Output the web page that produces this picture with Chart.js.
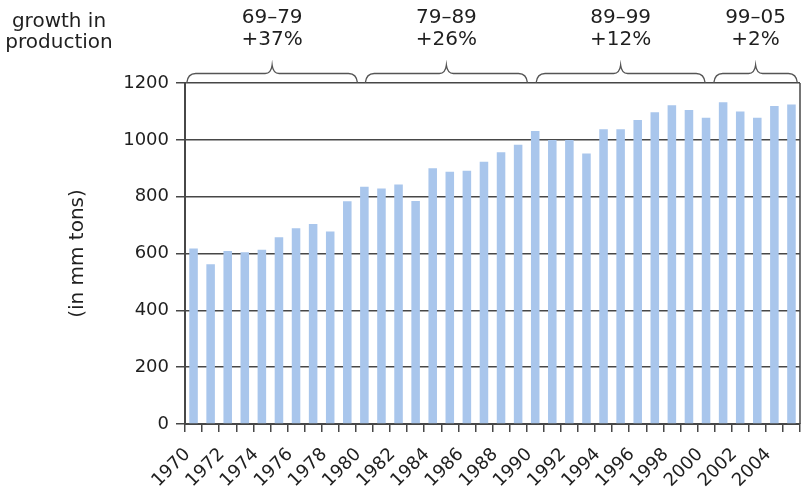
<!DOCTYPE html>
<html><head><meta charset="utf-8">
<script src="https://cdn.jsdelivr.net/npm/chart.js@4/dist/chart.umd.min.js"></script>
<style>html,body{margin:0;padding:0;background:#fff}#wrap{width:803px;height:489px;position:relative}</style>
</head><body><div id="wrap"><canvas id="c" width="803" height="489"></canvas></div>
<script>
const years = ['1970','1971','1972','1973','1974','1975','1976','1977','1978','1979',
  '1980','1981','1982','1983','1984','1985','1986','1987','1988','1989',
  '1990','1991','1992','1993','1994','1995','1996','1997','1998','1999',
  '2000','2001','2002','2003','2004','2005'];
const production = [618,562,609,604,613,657,689,704,677,784,
  835,829,843,785,900,888,891,923,956,983,
  1031,999,999,952,1037,1037,1070,1097,1122,1105,
  1078,1132,1100,1078,1119,1124];
const xTickLabels = ['1970','','1972','','1974','','1976','','1978','',
  '1980','','1982','','1984','','1986','','1988','',
  '1990','','1992','','1994','','1996','','1998','',
  '2000','','2002','','2004',''];
const yTicks = [0,200,400,600,800,1000,1200];
const braceFrom = [-0.4, 10.05, 20.05, 30.45];
const braceTo   = [9.6, 19.55, 29.95, 35.35];
const braceLine1 = ['69\u201379','79\u201389','89\u201399','99\u201305'];
const braceLine2 = ['+37%','+26%','+12%','+2%'];
const cornerText = ['growth in','production'];
const yTitle = '(in mm tons)';

const FONT = 'DejaVu Sans';
const TEXT = '#1f1f1f';
const LINE = '#474747';

const overlay = {
  id: 'overlay',
  afterDraw(chart) {
    const ctx = chart.ctx, xs = chart.scales.x, ca = chart.chartArea;
    const step = xs.getPixelForValue(1) - xs.getPixelForValue(0);
    const px = i => xs.getPixelForValue(0) + i * step;
    ctx.save();
    ctx.strokeStyle = LINE; ctx.lineWidth = 1.5;
    ctx.beginPath(); ctx.moveTo(ca.right, ca.top); ctx.lineTo(ca.right, ca.bottom); ctx.stroke();
    const top = ca.top, yl = top - 9.5, yt = top - 18;
    ctx.lineWidth = 1.3; ctx.strokeStyle = '#555';
    ctx.fillStyle = TEXT; ctx.textAlign = 'center'; ctx.textBaseline = 'alphabetic';
    ctx.font = '20px "' + FONT + '"';
    braceFrom.forEach((s, k) => {
      const x0 = px(s), x1 = px(braceTo[k]), xm = (x0 + x1) / 2;
      ctx.beginPath();
      ctx.moveTo(x0, top);
      ctx.quadraticCurveTo(x0 + 1, yl, x0 + 9, yl);
      ctx.lineTo(xm - 7, yl);
      ctx.quadraticCurveTo(xm - 1, yl, xm, yt);
      ctx.quadraticCurveTo(xm + 1, yl, xm + 7, yl);
      ctx.lineTo(x1 - 9, yl);
      ctx.quadraticCurveTo(x1 - 1, yl, x1, top);
      ctx.stroke();
      ctx.fillText(braceLine1[k], xm, 23);
      ctx.fillText(braceLine2[k], xm, 45);
    });
    ctx.fillText(cornerText[0], 59, 27);
    ctx.fillText(cornerText[1], 59, 48);
    ctx.restore();
  }
};

new Chart(document.getElementById('c'), {
  type: 'bar',
  data: { labels: years, datasets: [{ data: production, backgroundColor: '#a9c6ec',
    barPercentage: 0.5, categoryPercentage: 1.0 }] },
  options: {
    responsive: false, animation: false, devicePixelRatio: 1,
    layout: { padding: { top: 83, right: 3, left: 0, bottom: 0 } },
    plugins: { legend: { display: false }, tooltip: { enabled: false } },
    scales: {
      x: {
        grid: { display: true, drawOnChartArea: false, drawTicks: true, tickLength: 8, offset: true, color: LINE, lineWidth: 1.5 },
        border: { display: true, color: LINE, width: 2 },
        ticks: { autoSkip: false, maxRotation: 45, minRotation: 45, color: TEXT, padding: 12, labelOffset: -6,
          font: { family: FONT, size: 18 }, callback: (v, i) => xTickLabels[i] },
        afterFit: s => { s.height = 65; s.paddingLeft = 0; s.paddingRight = 0; }
      },
      y: {
        min: 0, max: 1200,
        afterBuildTicks: s => { s.ticks = yTicks.map(v => ({ value: v })); },
        grid: { color: LINE, lineWidth: 1.5, tickLength: 9, drawTicks: true },
        border: { display: true, color: LINE, width: 2 },
        ticks: { color: TEXT, padding: 7, font: { family: FONT, size: 18 }, callback: v => String(v) },
        title: { display: true, text: yTitle, color: TEXT, font: { family: FONT, size: 20 }, padding: { top: 66, bottom: 0 } },
        afterFit: s => { s.width = 185; }
      }
    }
  },
  plugins: [overlay]
});
</script></body></html>
